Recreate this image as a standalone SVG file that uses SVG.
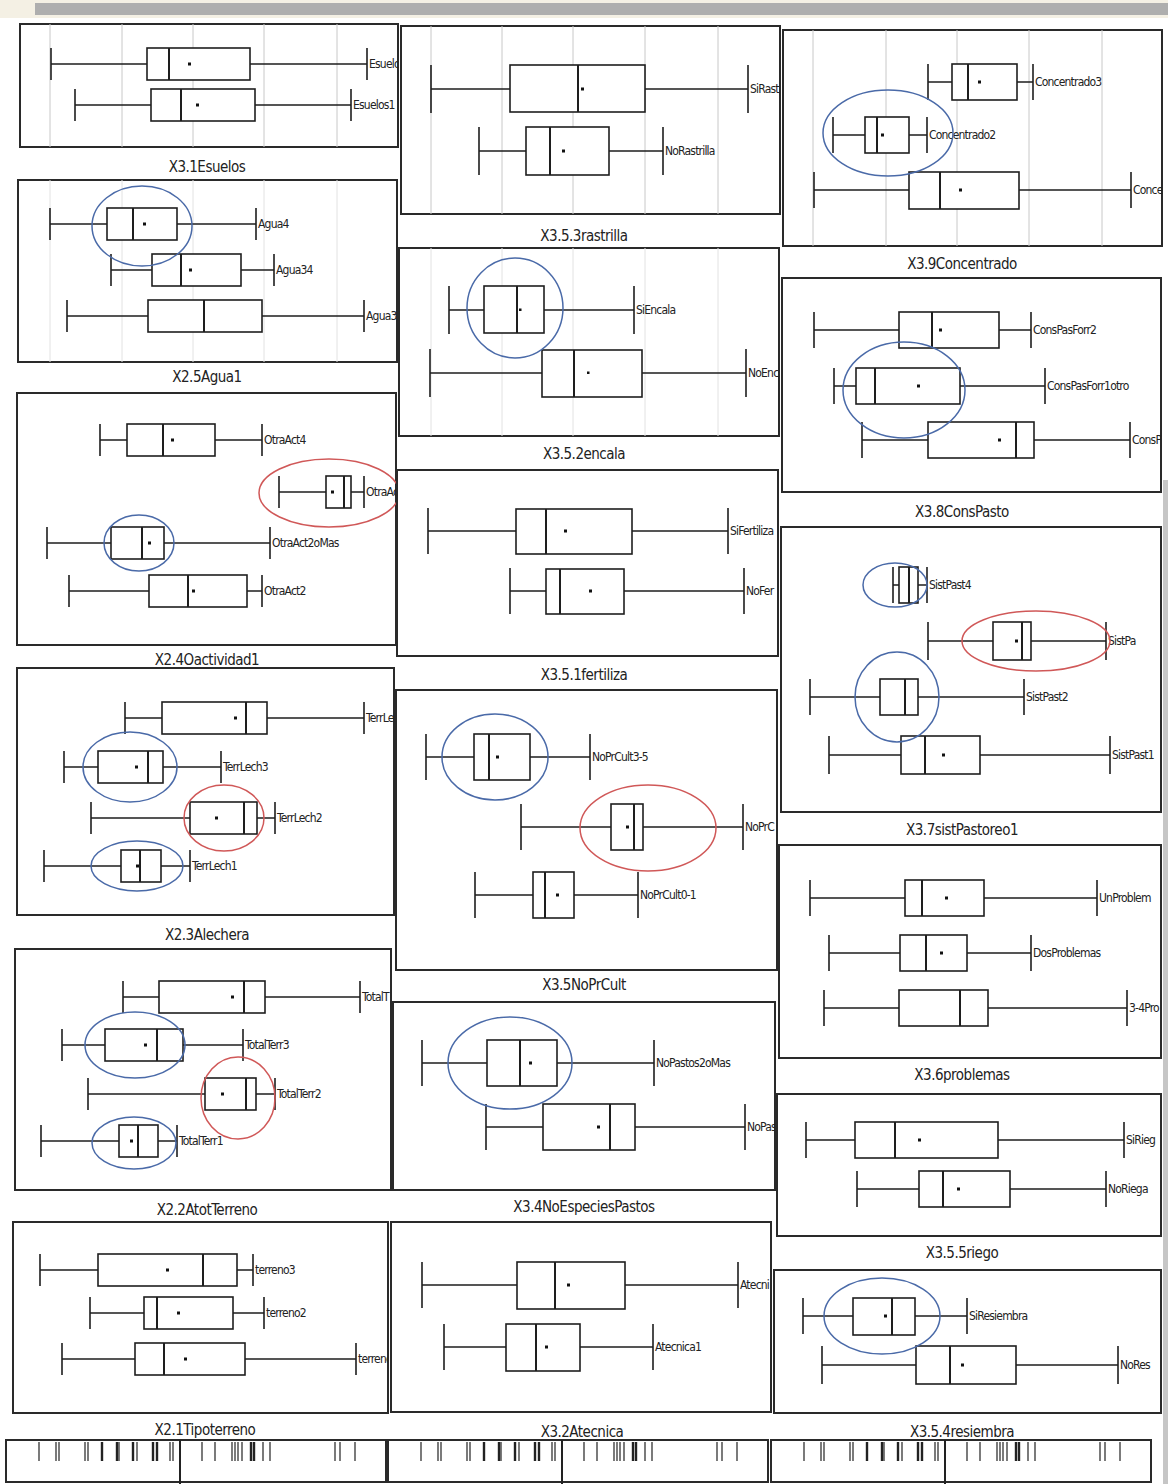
<svg xmlns="http://www.w3.org/2000/svg" xmlns:xlink="http://www.w3.org/1999/xlink" width="1168" height="1484" viewBox="0 0 1168 1484">
<style>
.frame{fill:none;stroke:#2a2a2a;stroke-width:2}
.grid{stroke:#c8c8c8;stroke-width:1}
.gridl{stroke:#e2e2e2;stroke-width:1}
.wh{stroke:#1e1e1e;stroke-width:1.6;fill:none}
.box{fill:#fff;stroke:#1e1e1e;stroke-width:1.6}
.med{stroke:#1e1e1e;stroke-width:2}
.mean{fill:#111}
.lab{font-family:"Liberation Sans Narrow","DejaVu Sans Condensed","Liberation Sans",sans-serif;font-size:12px;fill:#222;letter-spacing:-0.8px}
.ttl{font-family:"Liberation Sans Narrow","DejaVu Sans Condensed","Liberation Sans",sans-serif;font-size:15px;fill:#222;text-anchor:middle;letter-spacing:-0.5px}
.eb{fill:none;stroke:#4a6aa8;stroke-width:1.5}
.er{fill:none;stroke:#d05858;stroke-width:1.5}
.tick{stroke:#333;stroke-width:1.3}
.tickd{stroke:#222;stroke-width:2.4}
</style>
<defs>
<clipPath id="cA"><rect x="20" y="24" width="378" height="123"/></clipPath>
<clipPath id="cB"><rect x="18" y="180" width="379" height="182"/></clipPath>
<clipPath id="cC"><rect x="17" y="393" width="379" height="252"/></clipPath>
<clipPath id="cD"><rect x="17" y="668" width="377" height="247"/></clipPath>
<clipPath id="cE"><rect x="15" y="949" width="376" height="241"/></clipPath>
<clipPath id="cF"><rect x="13" y="1222" width="375" height="191"/></clipPath>
<clipPath id="cG"><rect x="401" y="26" width="379" height="188"/></clipPath>
<clipPath id="cH"><rect x="399" y="248" width="380" height="188"/></clipPath>
<clipPath id="cI"><rect x="397" y="470" width="381" height="186"/></clipPath>
<clipPath id="cJ"><rect x="396" y="690" width="381" height="280"/></clipPath>
<clipPath id="cK"><rect x="393" y="1002" width="382" height="188"/></clipPath>
<clipPath id="cL"><rect x="391" y="1222" width="380" height="190"/></clipPath>
<clipPath id="cM"><rect x="783" y="30" width="379" height="216"/></clipPath>
<clipPath id="cN"><rect x="782" y="278" width="379" height="214"/></clipPath>
<clipPath id="cO"><rect x="781" y="527" width="380" height="285"/></clipPath>
<clipPath id="cP"><rect x="779" y="845" width="382" height="213"/></clipPath>
<clipPath id="cQ"><rect x="777" y="1094" width="384" height="142"/></clipPath>
<clipPath id="cR"><rect x="774" y="1270" width="387" height="143"/></clipPath>
<g id="rug">
<rect x="6" y="1440" width="380" height="42" fill="#fff" stroke="#2a2a2a" stroke-width="2"/>
<line x1="180" y1="1440" x2="180" y2="1484" stroke="#222" stroke-width="2"/>
<g class="tick">
<line x1="39" y1="1442" x2="39" y2="1461"/><line x1="56" y1="1442" x2="56" y2="1461"/><line x1="59" y1="1442" x2="59" y2="1461"/>
<line x1="85" y1="1442" x2="85" y2="1461"/><line x1="88" y1="1442" x2="88" y2="1461"/><line x1="119" y1="1442" x2="119" y2="1461"/>
<line x1="137" y1="1442" x2="137" y2="1461"/><line x1="170" y1="1442" x2="170" y2="1461"/><line x1="173" y1="1442" x2="173" y2="1461"/>
<line x1="202" y1="1442" x2="202" y2="1461"/><line x1="215" y1="1442" x2="215" y2="1461"/><line x1="232" y1="1442" x2="232" y2="1461"/>
<line x1="235" y1="1442" x2="235" y2="1461"/><line x1="238" y1="1442" x2="238" y2="1461"/><line x1="242" y1="1442" x2="242" y2="1461"/>
<line x1="263" y1="1442" x2="263" y2="1461"/><line x1="270" y1="1442" x2="270" y2="1461"/><line x1="335" y1="1442" x2="335" y2="1461"/>
<line x1="340" y1="1442" x2="340" y2="1461"/><line x1="355" y1="1442" x2="355" y2="1461"/>
</g>
<g class="tickd">
<line x1="102" y1="1442" x2="102" y2="1461"/><line x1="117" y1="1442" x2="117" y2="1461"/><line x1="133" y1="1442" x2="133" y2="1461"/>
<line x1="153" y1="1442" x2="153" y2="1461"/><line x1="157" y1="1442" x2="157" y2="1461"/><line x1="251" y1="1442" x2="251" y2="1461"/><line x1="254" y1="1442" x2="254" y2="1461"/>
</g>
</g>
</defs>
<rect width="1168" height="1484" fill="#fff"/>
<rect x="0" y="0" width="1168" height="18" fill="#f4f0e4"/>
<rect x="35" y="3" width="1133" height="12" fill="#aeaeae"/>
<rect x="1163" y="480" width="5" height="1004" fill="#c6c6c6"/>

<!-- Column 1 -->
<g id="panel-X3.1Esuelos">
<rect class="frame" x="20" y="24" width="378" height="123"/>
<g clip-path="url(#cA)">
<g class="grid"><line x1="50" y1="24" x2="50" y2="147"/><line x1="122" y1="24" x2="122" y2="147"/><line x1="193" y1="24" x2="193" y2="147"/><line x1="264" y1="24" x2="264" y2="147"/><line x1="337" y1="24" x2="337" y2="147"/></g>
<path class="wh" d="M51 64H147M250 64H367M51 48V80M367 48V80"/><rect class="box" x="147" y="48" width="103" height="32"/><line class="med" x1="169" y1="48" x2="169" y2="80"/><rect class="mean" x="188" y="62.5" width="3" height="3"/><text class="lab" x="369" y="68">Esuelo</text>
<path class="wh" d="M75 105H151M255 105H351M75 89V121M351 89V121"/><rect class="box" x="151" y="89" width="104" height="32"/><line class="med" x1="181" y1="89" x2="181" y2="121"/><rect class="mean" x="196" y="103.5" width="3" height="3"/><text class="lab" x="353" y="109">Esuelos1</text>
</g>
<text class="ttl" x="207" y="172">X3.1Esuelos</text>
</g>

<g id="panel-X2.5Agua1">
<rect class="frame" x="18" y="180" width="379" height="182"/>
<g clip-path="url(#cB)">
<g class="gridl"><line x1="50" y1="180" x2="50" y2="362"/><line x1="122" y1="180" x2="122" y2="362"/><line x1="193" y1="180" x2="193" y2="362"/><line x1="264" y1="180" x2="264" y2="362"/><line x1="337" y1="180" x2="337" y2="362"/></g>
<path class="wh" d="M50 224H107M177 224H256M50 208V240M256 208V240"/><rect class="box" x="107" y="208" width="70" height="32"/><line class="med" x1="133" y1="208" x2="133" y2="240"/><rect class="mean" x="143" y="222.5" width="3" height="3"/><text class="lab" x="258" y="228">Agua4</text>
<path class="wh" d="M111 270H152M241 270H274M111 254V286M274 254V286"/><rect class="box" x="152" y="254" width="89" height="32"/><line class="med" x1="181" y1="254" x2="181" y2="286"/><rect class="mean" x="189" y="268.5" width="3" height="3"/><text class="lab" x="276" y="274">Agua34</text>
<path class="wh" d="M67 316H148M262 316H364M67 300V332M364 300V332"/><rect class="box" x="148" y="300" width="114" height="32"/><line class="med" x1="204" y1="300" x2="204" y2="332"/><text class="lab" x="366" y="320">Agua3</text>
<ellipse class="eb" cx="142" cy="226" rx="50" ry="40"/>
</g>
<text class="ttl" x="207" y="382">X2.5Agua1</text>
</g>

<g id="panel-X2.4Oactividad1">
<rect class="frame" x="17" y="393" width="379" height="252"/>
<g clip-path="url(#cC)">
<path class="wh" d="M100 440H127M215 440H262M100 424V456M262 424V456"/><rect class="box" x="127" y="424" width="88" height="32"/><line class="med" x1="163" y1="424" x2="163" y2="456"/><rect class="mean" x="171" y="438.5" width="3" height="3"/><text class="lab" x="264" y="444">OtraAct4</text>
<path class="wh" d="M279 492H326M351 492H364M279 476V508M364 476V508"/><rect class="box" x="326" y="476" width="25" height="32"/><line class="med" x1="344" y1="476" x2="344" y2="508"/><rect class="mean" x="331" y="490.5" width="3" height="3"/><text class="lab" x="366" y="496">OtraAc</text>
<path class="wh" d="M47 543H111M164 543H270M47 527V559M270 527V559"/><rect class="box" x="111" y="527" width="53" height="32"/><line class="med" x1="142" y1="527" x2="142" y2="559"/><rect class="mean" x="148" y="541.5" width="3" height="3"/><text class="lab" x="272" y="547">OtraAct2oMas</text>
<path class="wh" d="M69 591H149M247 591H262M69 575V607M262 575V607"/><rect class="box" x="149" y="575" width="98" height="32"/><line class="med" x1="188" y1="575" x2="188" y2="607"/><rect class="mean" x="192" y="589.5" width="3" height="3"/><text class="lab" x="264" y="595">OtraAct2</text>
<ellipse class="er" cx="329" cy="493" rx="70" ry="34"/>
<ellipse class="eb" cx="139" cy="543" rx="35" ry="28"/>
</g>
<text class="ttl" x="207" y="665">X2.4Oactividad1</text>
</g>

<g id="panel-X2.3Alechera">
<rect class="frame" x="17" y="668" width="377" height="247"/>
<g clip-path="url(#cD)">
<path class="wh" d="M125 718H162M267 718H364M125 702V734M364 702V734"/><rect class="box" x="162" y="702" width="105" height="32"/><line class="med" x1="246" y1="702" x2="246" y2="734"/><rect class="mean" x="234" y="716.5" width="3" height="3"/><text class="lab" x="366" y="722">TerrLe</text>
<path class="wh" d="M64 767H98M163 767H221M64 751V783M221 751V783"/><rect class="box" x="98" y="751" width="65" height="32"/><line class="med" x1="148" y1="751" x2="148" y2="783"/><rect class="mean" x="135" y="765.5" width="3" height="3"/><text class="lab" x="223" y="771">TerrLech3</text>
<path class="wh" d="M91 818H190M257 818H275M91 802V834M275 802V834"/><rect class="box" x="190" y="802" width="67" height="32"/><line class="med" x1="244" y1="802" x2="244" y2="834"/><rect class="mean" x="215" y="816.5" width="3" height="3"/><text class="lab" x="277" y="822">TerrLech2</text>
<path class="wh" d="M44 866H121M161 866H190M44 850V882M190 850V882"/><rect class="box" x="121" y="850" width="40" height="32"/><line class="med" x1="140" y1="850" x2="140" y2="882"/><rect class="mean" x="136" y="864.5" width="3" height="3"/><text class="lab" x="192" y="870">TerrLech1</text>
<ellipse class="eb" cx="130" cy="767" rx="47" ry="35"/>
<ellipse class="er" cx="224" cy="818" rx="40" ry="33"/>
<ellipse class="eb" cx="137" cy="866" rx="46" ry="25"/>
</g>
<text class="ttl" x="207" y="940">X2.3Alechera</text>
</g>

<g id="panel-X2.2AtotTerreno">
<rect class="frame" x="15" y="949" width="376" height="241"/>
<g clip-path="url(#cE)">
<path class="wh" d="M123 997H159M265 997H360M123 981V1013M360 981V1013"/><rect class="box" x="159" y="981" width="106" height="32"/><line class="med" x1="244" y1="981" x2="244" y2="1013"/><rect class="mean" x="231" y="995.5" width="3" height="3"/><text class="lab" x="362" y="1001">TotalT</text>
<path class="wh" d="M62 1045H105M183 1045H243M62 1029V1061M243 1029V1061"/><rect class="box" x="105" y="1029" width="78" height="32"/><line class="med" x1="157" y1="1029" x2="157" y2="1061"/><rect class="mean" x="144" y="1043.5" width="3" height="3"/><text class="lab" x="245" y="1049">TotalTerr3</text>
<path class="wh" d="M88 1094H205M256 1094H275M88 1078V1110M275 1078V1110"/><rect class="box" x="205" y="1078" width="51" height="32"/><line class="med" x1="246" y1="1078" x2="246" y2="1110"/><rect class="mean" x="221" y="1092.5" width="3" height="3"/><text class="lab" x="277" y="1098">TotalTerr2</text>
<path class="wh" d="M41 1141H119M158 1141H177M41 1125V1157M177 1125V1157"/><rect class="box" x="119" y="1125" width="39" height="32"/><line class="med" x1="138" y1="1125" x2="138" y2="1157"/><rect class="mean" x="130" y="1139.5" width="3" height="3"/><text class="lab" x="179" y="1145">TotalTerr1</text>
<ellipse class="eb" cx="135" cy="1045" rx="50" ry="33"/>
<ellipse class="er" cx="238" cy="1098" rx="37" ry="41"/>
<ellipse class="eb" cx="134" cy="1143" rx="42" ry="26"/>
</g>
<text class="ttl" x="207" y="1215">X2.2AtotTerreno</text>
</g>

<g id="panel-X2.1Tipoterreno">
<rect class="frame" x="13" y="1222" width="375" height="191"/>
<g clip-path="url(#cF)">
<path class="wh" d="M40 1270H98M237 1270H253M40 1254V1286M253 1254V1286"/><rect class="box" x="98" y="1254" width="139" height="32"/><line class="med" x1="203" y1="1254" x2="203" y2="1286"/><rect class="mean" x="166" y="1268.5" width="3" height="3"/><text class="lab" x="255" y="1274">terreno3</text>
<path class="wh" d="M90 1313H144M233 1313H264M90 1297V1329M264 1297V1329"/><rect class="box" x="144" y="1297" width="89" height="32"/><line class="med" x1="157" y1="1297" x2="157" y2="1329"/><rect class="mean" x="177" y="1311.5" width="3" height="3"/><text class="lab" x="266" y="1317">terreno2</text>
<path class="wh" d="M62 1359H135M245 1359H356M62 1343V1375M356 1343V1375"/><rect class="box" x="135" y="1343" width="110" height="32"/><line class="med" x1="164" y1="1343" x2="164" y2="1375"/><rect class="mean" x="184" y="1357.5" width="3" height="3"/><text class="lab" x="358" y="1363">terreno</text>
</g>
<text class="ttl" x="205" y="1435">X2.1Tipoterreno</text>
</g>

<!-- Column 2 -->
<g id="panel-X3.5.3rastrilla">
<rect class="frame" x="401" y="26" width="379" height="188"/>
<g clip-path="url(#cG)">
<g class="grid"><line x1="431" y1="26" x2="431" y2="214"/><line x1="502" y1="26" x2="502" y2="214"/><line x1="573" y1="26" x2="573" y2="214"/><line x1="645" y1="26" x2="645" y2="214"/><line x1="718" y1="26" x2="718" y2="214"/></g>
<path class="wh" d="M431 89H510M645 89H748M431 65V113M748 65V113"/><rect class="box" x="510" y="65" width="135" height="47"/><line class="med" x1="578" y1="65" x2="578" y2="112"/><rect class="mean" x="581" y="87.5" width="3" height="3"/><text class="lab" x="750" y="93">SiRast</text>
<path class="wh" d="M479 151H526M609 151H663M479 127V175M663 127V175"/><rect class="box" x="526" y="127" width="83" height="48"/><line class="med" x1="550" y1="127" x2="550" y2="175"/><rect class="mean" x="562" y="149.5" width="3" height="3"/><text class="lab" x="665" y="155">NoRastrilla</text>
</g>
<text class="ttl" x="584" y="241">X3.5.3rastrilla</text>
</g>

<g id="panel-X3.5.2encala">
<rect class="frame" x="399" y="248" width="380" height="188"/>
<g clip-path="url(#cH)">
<g class="gridl"><line x1="431" y1="248" x2="431" y2="436"/><line x1="502" y1="248" x2="502" y2="436"/><line x1="573" y1="248" x2="573" y2="436"/><line x1="645" y1="248" x2="645" y2="436"/><line x1="718" y1="248" x2="718" y2="436"/></g>
<path class="wh" d="M449 310H484M544 310H634M449 286V334M634 286V334"/><rect class="box" x="484" y="286" width="60" height="47"/><line class="med" x1="517" y1="286" x2="517" y2="333"/><rect class="mean" x="519" y="308.5" width="2.5" height="2.5"/><text class="lab" x="636" y="314">SiEncala</text>
<path class="wh" d="M430 373H542M642 373H746M430 349V397M746 349V397"/><rect class="box" x="542" y="350" width="100" height="47"/><line class="med" x1="574" y1="350" x2="574" y2="397"/><rect class="mean" x="587" y="371.5" width="2.5" height="2.5"/><text class="lab" x="748" y="377">NoEnc</text>
<ellipse class="eb" cx="515" cy="308" rx="48" ry="50"/>
</g>
<text class="ttl" x="584" y="459">X3.5.2encala</text>
</g>

<g id="panel-X3.5.1fertiliza">
<rect class="frame" x="397" y="470" width="381" height="186"/>
<g clip-path="url(#cI)">
<path class="wh" d="M428 531H516M632 531H728M428 508V554M728 508V554"/><rect class="box" x="516" y="509" width="116" height="45"/><line class="med" x1="546" y1="509" x2="546" y2="554"/><rect class="mean" x="564" y="529.5" width="3" height="3"/><text class="lab" x="730" y="535">SiFertiliza</text>
<path class="wh" d="M510 591H546M624 591H744M510 568V614M744 568V614"/><rect class="box" x="546" y="569" width="78" height="45"/><line class="med" x1="560" y1="569" x2="560" y2="614"/><rect class="mean" x="589" y="589.5" width="3" height="3"/><text class="lab" x="746" y="595">NoFer</text>
</g>
<text class="ttl" x="584" y="680">X3.5.1fertiliza</text>
</g>

<g id="panel-X3.5NoPrCult">
<rect class="frame" x="396" y="690" width="381" height="280"/>
<g clip-path="url(#cJ)">
<path class="wh" d="M426 757H474M530 757H590M426 734V780M590 734V780"/><rect class="box" x="474" y="734" width="56" height="46"/><line class="med" x1="489" y1="734" x2="489" y2="780"/><rect class="mean" x="496" y="755.5" width="3" height="3"/><text class="lab" x="592" y="761">NoPrCult3-5</text>
<path class="wh" d="M521 827H611M643 827H743M521 804V850M743 804V850"/><rect class="box" x="611" y="804" width="32" height="46"/><line class="med" x1="634" y1="804" x2="634" y2="850"/><rect class="mean" x="626" y="825.5" width="3" height="3"/><text class="lab" x="745" y="831">NoPrC</text>
<path class="wh" d="M475 895H533M574 895H638M475 872V918M638 872V918"/><rect class="box" x="533" y="872" width="41" height="46"/><line class="med" x1="545" y1="872" x2="545" y2="918"/><rect class="mean" x="556" y="893.5" width="3" height="3"/><text class="lab" x="640" y="899">NoPrCult0-1</text>
<ellipse class="eb" cx="495" cy="757" rx="53" ry="43"/>
<ellipse class="er" cx="648" cy="828" rx="68" ry="43"/>
</g>
<text class="ttl" x="584" y="990">X3.5NoPrCult</text>
</g>

<g id="panel-X3.4NoEspeciesPastos">
<rect class="frame" x="393" y="1002" width="382" height="188"/>
<g clip-path="url(#cK)">
<path class="wh" d="M422 1063H487M557 1063H654M422 1040V1086M654 1040V1086"/><rect class="box" x="487" y="1040" width="70" height="46"/><line class="med" x1="520" y1="1040" x2="520" y2="1086"/><rect class="mean" x="529" y="1061.5" width="3" height="3"/><text class="lab" x="656" y="1067">NoPastos2oMas</text>
<path class="wh" d="M486 1127H543M635 1127H745M486 1104V1150M745 1104V1150"/><rect class="box" x="543" y="1104" width="92" height="46"/><line class="med" x1="610" y1="1104" x2="610" y2="1150"/><rect class="mean" x="597" y="1125.5" width="3" height="3"/><text class="lab" x="747" y="1131">NoPas</text>
<ellipse class="eb" cx="510" cy="1063" rx="62" ry="46"/>
</g>
<text class="ttl" x="584" y="1212">X3.4NoEspeciesPastos</text>
</g>

<g id="panel-X3.2Atecnica">
<rect class="frame" x="391" y="1222" width="380" height="190"/>
<g clip-path="url(#cL)">
<path class="wh" d="M422 1285H517M625 1285H738M422 1262V1308M738 1262V1308"/><rect class="box" x="517" y="1262" width="108" height="47"/><line class="med" x1="555" y1="1262" x2="555" y2="1309"/><rect class="mean" x="567" y="1283.5" width="3" height="3"/><text class="lab" x="740" y="1289">Atecni</text>
<path class="wh" d="M444 1347H506M580 1347H653M444 1324V1370M653 1324V1370"/><rect class="box" x="506" y="1324" width="74" height="47"/><line class="med" x1="536" y1="1324" x2="536" y2="1371"/><rect class="mean" x="545" y="1345.5" width="3" height="3"/><text class="lab" x="655" y="1351">Atecnica1</text>
</g>
<text class="ttl" x="582" y="1437">X3.2Atecnica</text>
</g>

<!-- Column 3 -->
<g id="panel-X3.9Concentrado">
<rect class="frame" x="783" y="30" width="379" height="216"/>
<g clip-path="url(#cM)">
<g class="grid"><line x1="813" y1="30" x2="813" y2="246"/><line x1="886" y1="30" x2="886" y2="246"/><line x1="957" y1="30" x2="957" y2="246"/><line x1="1029" y1="30" x2="1029" y2="246"/><line x1="1102" y1="30" x2="1102" y2="246"/></g>
<path class="wh" d="M928 82H952M1017 82H1033M928 64V100M1033 64V100"/><rect class="box" x="952" y="64" width="65" height="36"/><line class="med" x1="968" y1="64" x2="968" y2="100"/><rect class="mean" x="978" y="80.5" width="3" height="3"/><text class="lab" x="1035" y="86">Concentrado3</text>
<path class="wh" d="M833 135H865M909 135H927M833 117V153M927 117V153"/><rect class="box" x="865" y="117" width="44" height="36"/><line class="med" x1="877" y1="117" x2="877" y2="153"/><rect class="mean" x="881" y="133.5" width="3" height="3"/><text class="lab" x="929" y="139">Concentrado2</text>
<path class="wh" d="M814 190H909M1019 190H1131M814 172V208M1131 172V208"/><rect class="box" x="909" y="172" width="110" height="37"/><line class="med" x1="940" y1="172" x2="940" y2="209"/><rect class="mean" x="959" y="188.5" width="3" height="3"/><text class="lab" x="1133" y="194">Conce</text>
<ellipse class="eb" cx="888" cy="133" rx="65" ry="43"/>
</g>
<text class="ttl" x="962" y="269">X3.9Concentrado</text>
</g>

<g id="panel-X3.8ConsPasto">
<rect class="frame" x="782" y="278" width="379" height="214"/>
<g clip-path="url(#cN)">
<path class="wh" d="M814 330H899M999 330H1031M814 312V348M1031 312V348"/><rect class="box" x="899" y="312" width="100" height="36"/><line class="med" x1="932" y1="312" x2="932" y2="348"/><rect class="mean" x="939" y="328.5" width="3" height="3"/><text class="lab" x="1033" y="334">ConsPasForr2</text>
<path class="wh" d="M834 386H856M960 386H1045M834 368V404M1045 368V404"/><rect class="box" x="856" y="368" width="104" height="36"/><line class="med" x1="875" y1="368" x2="875" y2="404"/><rect class="mean" x="917" y="384.5" width="3" height="3"/><text class="lab" x="1047" y="390">ConsPasForr1otro</text>
<path class="wh" d="M862 440H928M1034 440H1130M862 422V458M1130 422V458"/><rect class="box" x="928" y="422" width="106" height="36"/><line class="med" x1="1016" y1="422" x2="1016" y2="458"/><rect class="mean" x="998" y="438.5" width="3" height="3"/><text class="lab" x="1132" y="444">ConsP</text>
<ellipse class="eb" cx="904" cy="390" rx="61" ry="48"/>
</g>
<text class="ttl" x="962" y="517">X3.8ConsPasto</text>
</g>

<g id="panel-X3.7sistPastoreo1">
<rect class="frame" x="781" y="527" width="380" height="285"/>
<g clip-path="url(#cO)">
<path class="wh" d="M893 585H899M918 585H927M893 567V603M927 567V603"/><rect class="box" x="899" y="567" width="19" height="36"/><line class="med" x1="909" y1="567" x2="909" y2="603"/><text class="lab" x="929" y="589">SistPast4</text>
<path class="wh" d="M928 641H993M1031 641H1106M928 622V660M1106 622V660"/><rect class="box" x="993" y="622" width="38" height="38"/><line class="med" x1="1022" y1="622" x2="1022" y2="660"/><rect class="mean" x="1015" y="639.5" width="3" height="3"/><text class="lab" x="1108" y="645">SistPa</text>
<path class="wh" d="M810 697H880M918 697H1024M810 679V715M1024 679V715"/><rect class="box" x="880" y="679" width="38" height="36"/><line class="med" x1="905" y1="679" x2="905" y2="715"/><text class="lab" x="1026" y="701">SistPast2</text>
<path class="wh" d="M829 755H901M980 755H1110M829 736V774M1110 736V774"/><rect class="box" x="901" y="736" width="79" height="38"/><line class="med" x1="925" y1="736" x2="925" y2="774"/><rect class="mean" x="942" y="753.5" width="3" height="3"/><text class="lab" x="1112" y="759">SistPast1</text>
<ellipse class="eb" cx="895" cy="585" rx="32" ry="22"/>
<ellipse class="er" cx="1036" cy="641" rx="74" ry="30"/>
<ellipse class="eb" cx="897" cy="697" rx="42" ry="45"/>
</g>
<text class="ttl" x="962" y="835">X3.7sistPastoreo1</text>
</g>

<g id="panel-X3.6problemas">
<rect class="frame" x="779" y="845" width="382" height="213"/>
<g clip-path="url(#cP)">
<path class="wh" d="M810 898H905M984 898H1097M810 880V916M1097 880V916"/><rect class="box" x="905" y="880" width="79" height="36"/><line class="med" x1="922" y1="880" x2="922" y2="916"/><rect class="mean" x="945" y="896.5" width="3" height="3"/><text class="lab" x="1099" y="902">UnProblem</text>
<path class="wh" d="M829 953H900M967 953H1031M829 935V971M1031 935V971"/><rect class="box" x="900" y="935" width="67" height="36"/><line class="med" x1="926" y1="935" x2="926" y2="971"/><rect class="mean" x="940" y="951.5" width="3" height="3"/><text class="lab" x="1033" y="957">DosProblemas</text>
<path class="wh" d="M824 1008H899M988 1008H1127M824 990V1026M1127 990V1026"/><rect class="box" x="899" y="990" width="89" height="36"/><line class="med" x1="960" y1="990" x2="960" y2="1026"/><text class="lab" x="1129" y="1012">3-4Pro</text>
</g>
<text class="ttl" x="962" y="1080">X3.6problemas</text>
</g>

<g id="panel-X3.5.5riego">
<rect class="frame" x="777" y="1094" width="384" height="142"/>
<g clip-path="url(#cQ)">
<path class="wh" d="M806 1140H855M998 1140H1124M806 1122V1158M1124 1122V1158"/><rect class="box" x="855" y="1122" width="143" height="36"/><line class="med" x1="895" y1="1122" x2="895" y2="1158"/><rect class="mean" x="918" y="1138.5" width="3" height="3"/><text class="lab" x="1126" y="1144">SiRieg</text>
<path class="wh" d="M857 1189H919M1010 1189H1106M857 1171V1207M1106 1171V1207"/><rect class="box" x="919" y="1171" width="91" height="36"/><line class="med" x1="943" y1="1171" x2="943" y2="1207"/><rect class="mean" x="957" y="1187.5" width="3" height="3"/><text class="lab" x="1108" y="1193">NoRiega</text>
</g>
<text class="ttl" x="962" y="1258">X3.5.5riego</text>
</g>

<g id="panel-X3.5.4resiembra">
<rect class="frame" x="774" y="1270" width="387" height="143"/>
<g clip-path="url(#cR)">
<path class="wh" d="M803 1316H853M915 1316H967M803 1298V1334M967 1298V1334"/><rect class="box" x="853" y="1298" width="62" height="37"/><line class="med" x1="892" y1="1298" x2="892" y2="1335"/><rect class="mean" x="884" y="1314.5" width="3" height="3"/><text class="lab" x="969" y="1320">SiResiembra</text>
<path class="wh" d="M822 1365H916M1016 1365H1118M822 1346V1384M1118 1346V1384"/><rect class="box" x="916" y="1346" width="100" height="38"/><line class="med" x1="950" y1="1346" x2="950" y2="1384"/><rect class="mean" x="961" y="1363.5" width="3" height="3"/><text class="lab" x="1120" y="1369">NoRes</text>
<ellipse class="eb" cx="882" cy="1316" rx="58" ry="38"/>
</g>
<text class="ttl" x="962" y="1437">X3.5.4resiembra</text>
</g>

<!-- Bottom rug strips -->
<g id="rug-col1"><use xlink:href="#rug" href="#rug"/></g>
<g id="rug-col2"><use xlink:href="#rug" href="#rug" transform="translate(382,0)"/></g>
<g id="rug-col3"><use xlink:href="#rug" href="#rug" transform="translate(765,0)"/></g>
</svg>
